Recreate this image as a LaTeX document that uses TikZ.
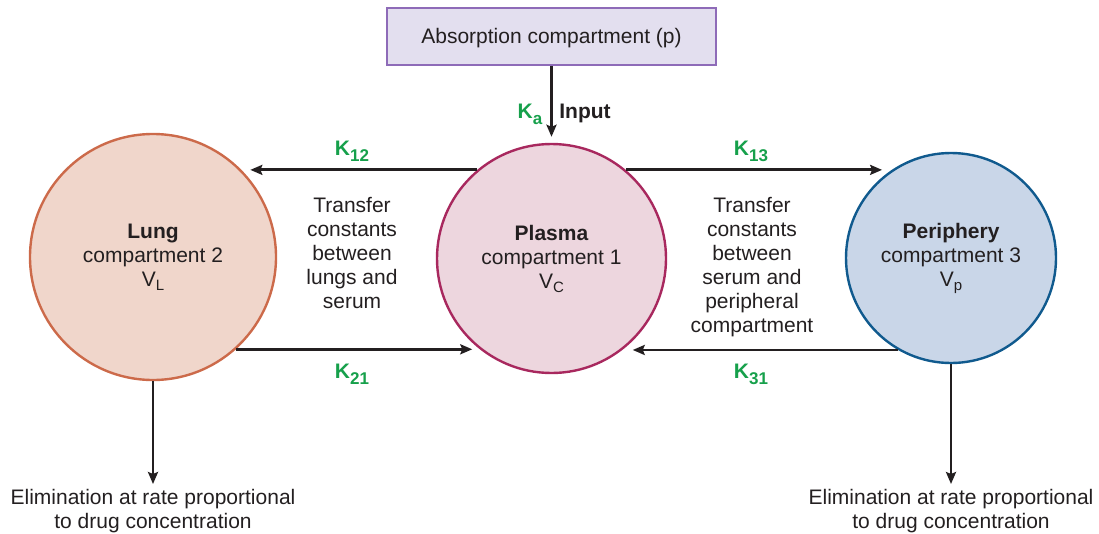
\documentclass[tikz,border=0pt]{standalone}
\usepackage{fontspec}
\setmainfont{Liberation Sans}
\usetikzlibrary{arrows.meta}
\definecolor{inkDark}{HTML}{231F20}
\definecolor{lungOrange}{HTML}{CC6A4A}
\definecolor{lungFill}{HTML}{F0D6CB}
\definecolor{plasmaRed}{HTML}{A8285E}
\definecolor{plasmaFill}{HTML}{EDD6DE}
\definecolor{periphBlue}{HTML}{105A8E}
\definecolor{periphFill}{HTML}{C9D6E8}
\definecolor{absorbPurple}{HTML}{8E6BB8}
\definecolor{absorbFill}{HTML}{E3DFEF}
\definecolor{rateGreen}{HTML}{16A04B}
\newcommand{\ksub}[2]{#1\raisebox{-6pt}{\fontsize{17}{17}\selectfont #2}}
\newcommand{\vsub}[1]{V\raisebox{-4pt}{\fontsize{15}{15}\selectfont #1}}
\tikzset{
  flow/.style={-{Stealth[length=12pt,width=10pt,inset=2pt]}, line width=2.9pt, inkDark, shorten >=8pt},
  cmpt/.style={circle, line width=2.4pt, inner sep=0pt, align=center, text=inkDark, font=\fontsize{21}{24}\selectfont},
  rate/.style={anchor=base, inner sep=0pt, text=rateGreen, font=\bfseries\fontsize{21}{24}\selectfont},
  txt/.style={align=center, inner sep=0pt, text=inkDark, font=\fontsize{21}{24}\selectfont},
}

\begin{document}
\begin{tikzpicture}[x=1pt, y=-1pt]
  \useasboundingbox (0,0) rectangle (1099,533);
  % compartments
  \node[txt, draw=absorbPurple, fill=absorbFill, line width=2.4pt, text height=15pt, text depth=1pt,
        minimum width=329pt, minimum height=57pt] (absorb) at (551.5,36.5) {Absorption compartment (p)};
  \node[cmpt, draw=plasmaRed, fill=plasmaFill, minimum size=229pt] (plasma) at (551.5,258.5)
    {\textbf{Plasma}\\compartment 1\\\vsub{C}};
  \node[cmpt, draw=lungOrange, fill=lungFill, minimum size=246pt] (lung) at (153,257)
    {\textbf{Lung}\\compartment 2\\\vsub{L}};
  \node[cmpt, draw=periphBlue, fill=periphFill, minimum size=210pt] (periph) at (951,258)
    {\textbf{Periphery}\\compartment 3\\\vsub{p}};

  % input
  \draw[flow, shorten >=6pt] (absorb) -- (plasma);
  \node[rate] (ka) at (530,118) {\ksub{K}{a}};
  \node[rate, text=inkDark] (input) at (585,118) {Input};

  % transfers
  \draw[flow] (plasma.130) -- (lung.44 |- plasma.130);
  \draw[flow] (plasma.50) -- (periph.125 |- plasma.50);
  \draw[flow] (lung.-48) -- (plasma.-128 |- lung.-48);
  \draw[flow, shorten >=10pt] (periph.-120) -- (plasma.-52 |- periph.-120);
  \node[rate] (k12) at (352,155) {\ksub{K}{12}};
  \node[rate] (k13) at (751,155) {\ksub{K}{13}};
  \node[rate] (k21) at (352,378) {\ksub{K}{21}};
  \node[rate] (k31) at (751,378) {\ksub{K}{31}};
  \node[txt] (lungRate) at (352,253) {Transfer\\constants\\between\\lungs and\\serum};
  \node[txt] (periphRate) at (752,267) {Transfer\\constants\\between\\serum and\\peripheral\\compartment};

  % elimination
  \node[txt] (elimL) at (153,511) {Elimination at rate proportional\\to drug concentration};
  \node[txt] (elimR) at (951,511) {Elimination at rate proportional\\to drug concentration};
  \draw[flow, shorten >=5pt] (lung) -- (elimL);
  \draw[flow, shorten >=5pt] (periph) -- (elimR);
\end{tikzpicture}
\end{document}
